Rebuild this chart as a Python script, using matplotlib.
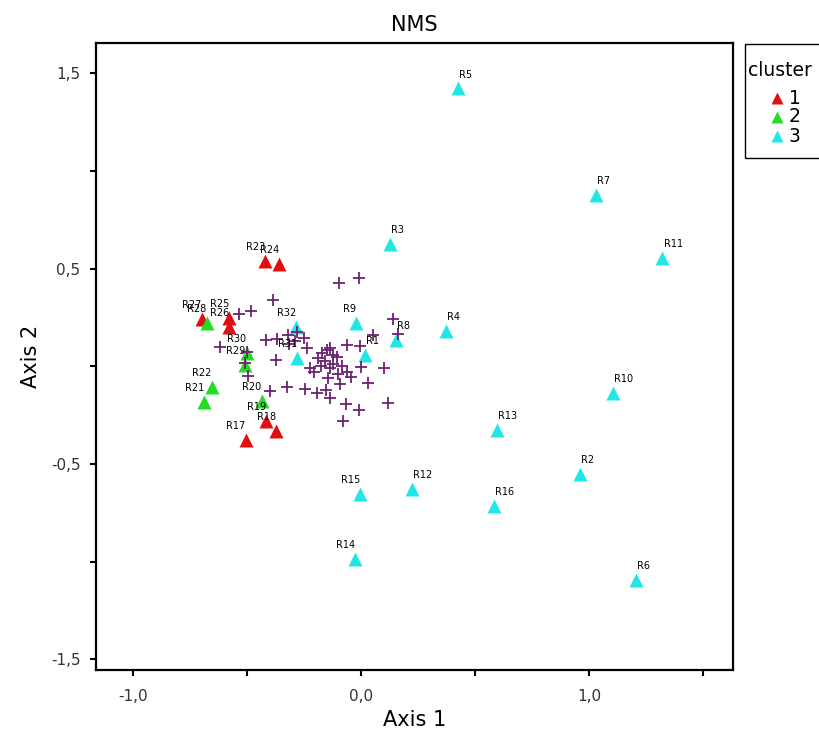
"""
NMS ordination plot: sample scores by cluster (triangles) and species scores (+).
"""

import matplotlib.pyplot as plt
from matplotlib.lines import Line2D
from matplotlib.patches import Rectangle
from matplotlib.ticker import FuncFormatter

plt.rcParams['font.family'] = ['DejaVu Sans']

# sample scores, cluster 1
names_c1 = ["R17", "R18", "R19", "R23", "R24", "R25", "R26", "R27"]
x_c1 = [-0.507, -0.374, -0.418, -0.422, -0.360, -0.579, -0.579, -0.700]
y_c1 = [-0.377, -0.331, -0.279, 0.541, 0.524, 0.246, 0.203, 0.241]

# sample scores, cluster 2
names_c2 = ["R20", "R21", "R22", "R28", "R29", "R30"]
x_c2 = [-0.437, -0.690, -0.656, -0.678, -0.510, -0.503]
y_c2 = [-0.176, -0.181, -0.104, 0.220, 0.007, 0.068]

# sample scores, cluster 3
names_c3 = ["R1", "R2", "R3", "R4", "R5", "R6", "R7", "R8", "R9", "R10",
            "R11", "R12", "R13", "R14", "R15", "R16", "R31", "R32"]
x_c3 = [0.016, 0.959, 0.126, 0.370, 0.423, 1.204, 1.029, 0.152, -0.023, 1.104,
        1.320, 0.222, 0.595, -0.029, -0.005, 0.582, -0.283, -0.286]
y_c3 = [0.058, -0.551, 0.626, 0.182, 1.423, -1.094, 0.877, 0.135, 0.222, -0.135,
        0.555, -0.627, -0.325, -0.987, -0.654, -0.714, 0.041, 0.200]

# species scores
sp_x = [-0.010, -0.098, -0.387, -0.536, -0.484, 0.139, 0.161, 0.051,
        -0.418, -0.370, -0.321, -0.317, -0.291, -0.251, -0.238, -0.282,
        -0.620, -0.501, -0.510, -0.497, -0.374,
        -0.137, -0.063, -0.006, -0.172, -0.150, -0.124, -0.190, -0.159, -0.107,
        -0.124, -0.225, -0.207, -0.177, -0.137, -0.085, -0.063, -0.001, 0.100,
        -0.146, -0.093, -0.045, 0.029, -0.102,
        -0.400, -0.326, -0.247, -0.194, -0.155, -0.137, -0.067, -0.010, 0.117, -0.080]
sp_y = [0.452, 0.427, 0.339, 0.268, 0.283, 0.242, 0.165, 0.160,
        0.135, 0.140, 0.160, 0.114, 0.130, 0.145, 0.094, 0.176,
        0.099, 0.073, 0.017, -0.050, 0.032,
        0.094, 0.109, 0.104, 0.068, 0.083, 0.058, 0.042, 0.027, 0.048,
        0.012, -0.009, -0.029, 0.002, -0.009, 0.002, -0.029, -0.004, -0.009,
        -0.060, -0.091, -0.055, -0.086, -0.039,
        -0.126, -0.106, -0.116, -0.137, -0.121, -0.162, -0.193, -0.224, -0.188, -0.280]

clusters = ["1", "2", "3"]
colors = ["#e01010", "#22dd22", "#22e6e6"]

W, H = 820, 738
fig = plt.figure(figsize=(W / 100, H / 100), dpi=100)
ax = fig.add_axes([0.1167, 0.0921, 0.7776, 0.8492])

groups = [(names_c1, x_c1, y_c1), (names_c2, x_c2, y_c2), (names_c3, x_c3, y_c3)]
for (names, xs, ys), col in zip(groups, colors):
    ax.plot(xs, ys, '^', color=col, ms=9.5, mec='none', zorder=2)
    for n, x, y in zip(names, xs, ys):
        if x < 0:
            ax.annotate(n, (x, y), xytext=(0, 10), textcoords='offset points',
                        ha='right', va='center', fontsize=7, zorder=4)
        else:
            ax.annotate(n, (x, y), xytext=(1, 10), textcoords='offset points',
                        ha='left', va='center', fontsize=7, zorder=4)

ax.plot(sp_x, sp_y, '+', color='#6d2272', ms=8.5, mew=1.3, zorder=3)

ax.set_xlim(-1.165, 1.632)
ax.set_ylim(-1.555, 1.654)

xt = [-1.0, -0.5, 0.0, 0.5, 1.0, 1.5]
yt = [-1.5, -1.0, -0.5, 0.0, 0.5, 1.0, 1.5]
ax.set_xticks(xt)
ax.set_yticks(yt)
# SPSS style: comma decimals, only every other tick labelled
ax.xaxis.set_major_formatter(FuncFormatter(
    lambda v, p: f"{v:.1f}".replace('.', ',') if abs(v) < 1.2 and abs(v * 2) % 2 < 0.01 else ""))
ax.yaxis.set_major_formatter(FuncFormatter(
    lambda v, p: f"{v:.1f}".replace('.', ',') if abs(abs(v) % 1 - 0.5) < 0.01 else ""))
ax.tick_params(direction='out', length=4, width=1.5, labelsize=11, labelcolor='#333333')
ax.tick_params(axis='x', pad=10)
ax.tick_params(axis='y', pad=7)
for s in ax.spines.values():
    s.set_linewidth(1.6)

ax.set_xlabel("Axis 1", fontsize=15, labelpad=4)
ax.set_ylabel("Axis 2", fontsize=15, labelpad=7)
ax.set_title("NMS", fontsize=15, pad=9)

# legend box, partly cut off by the right edge as in the original
fig.add_artist(Rectangle((745 / W, 1 - 158 / H), 90 / W, 114 / H, transform=fig.transFigure,
                         fill=False, edgecolor='black', lw=1.0, clip_on=False))
fig.text(748 / W, 1 - 70 / H, "cluster", fontsize=13.5, ha='left', va='center')
for i, (lab, col) in enumerate(zip(clusters, colors)):
    yy = 1 - (98 + 19 * i) / H
    fig.add_artist(Line2D([777 / W], [yy], marker='^', ls='none', color=col, mec='none',
                          ms=8, transform=fig.transFigure))
    fig.text(789 / W, yy, lab, fontsize=13.5, ha='left', va='center')

fig.savefig("out.png", dpi=100)
